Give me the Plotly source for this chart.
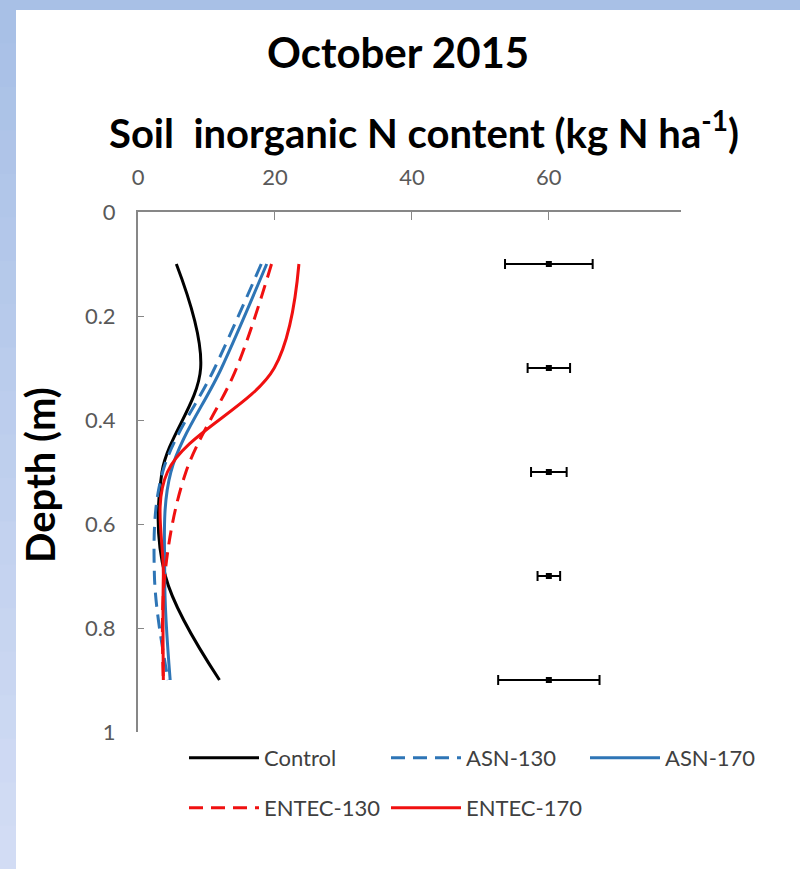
import plotly.graph_objects as go

# ---- data ----
depth = [0.1, 0.3, 0.5, 0.7, 0.9]
control = [5.6, 9.15, 3.5, 4.0, 11.9]
asn130 = [18.0, 11.2, 3.6, 2.4, 4.4]
asn170 = [18.8, 12.2, 4.8, 3.9, 4.7]
entec130 = [19.5, 14.4, 7.0, 3.9, 3.7]
entec170 = [23.5, 19.9, 4.3, 3.7, 3.7]
err_center = [60, 60, 60, 60, 60]
err_half = [6.4, 3.1, 2.6, 1.65, 7.4]
x_ticks = [0, 20, 40, 60]
y_ticks = [0, 0.2, 0.4, 0.6, 0.8, 1]
names = ["Control", "ASN-130", "ASN-170", "ENTEC-130", "ENTEC-170"]

W, H = 800, 869
L, R, T, B = 138, 119, 212, 137
pw = W - L - R
ph = H - T - B


def px(x):
    return (x - L) / pw


def py(y):
    return 1 - (y - T) / ph


FONT = "Lato"
BLUE = "#2E75B6"
RED = "#F01010"

fig = go.Figure()

values = [control, asn130, asn170, entec130, entec170]
colors = ["black", BLUE, BLUE, RED, RED]
dashes = ["solid", "14px,8px", "solid", "14px,8px", "solid"]
legend_ids = ["legend", "legend2", "legend3", "legend4", "legend5"]
# legend entry anchor positions (pixels): line start x, row centre y
legend_pos = [(184, 758), (386, 758), (585, 758), (184, 808), (386, 808)]

for name, vals, col, dash, lg in zip(names, values, colors, dashes, legend_ids):
    fig.add_trace(go.Scatter(
        x=vals, y=depth, name=name, mode="lines",
        line=dict(color=col, width=3, dash=dash, shape="spline", smoothing=1.0),
        legend=lg,
    ))

fig.add_trace(go.Scatter(
    x=err_center, y=depth, mode="markers", showlegend=False,
    marker=dict(color="black", size=6, symbol="square"),
    error_x=dict(type="data", array=err_half, color="black", thickness=2, width=5),
))

# background: blue frame with gradient on the left
shapes = []
top_c = (0xA8, 0xC0, 0xE6)
bot_c = (0xD2, 0xDC, 0xF4)
n = 20
for i in range(n):
    f = i / (n - 1)
    c = tuple(int(round(top_c[k] + (bot_c[k] - top_c[k]) * f)) for k in range(3))
    y0 = H * i / n
    y1 = H * (i + 1) / n
    shapes.append(dict(type="rect", xref="paper", yref="paper", layer="below",
                       x0=px(0), x1=px(16), y0=py(y0), y1=py(y1 + 1),
                       fillcolor="rgb(%d,%d,%d)" % c, line=dict(width=0)))
shapes.append(dict(type="rect", xref="paper", yref="paper", layer="below",
                   x0=px(16), x1=px(W + 2), y0=py(10), y1=py(H + 2),
                   fillcolor="white", line=dict(width=0)))

annotations = [
    dict(text="<b>October 2015</b>", x=px(398), y=py(52), xref="paper", yref="paper",
         showarrow=False, font=dict(family=FONT, size=42, color="black"),
         xanchor="center", yanchor="middle"),
    dict(text="<b>Soil  inorganic N content (kg N ha<sup>-1</sup>)</b>", x=px(424), y=py(130),
         xref="paper", yref="paper", showarrow=False,
         font=dict(family=FONT, size=40, color="black"), xanchor="center", yanchor="middle"),
    dict(text="<b>Depth (m)</b>", x=px(40), y=py(475), xref="paper", yref="paper",
         showarrow=False, textangle=-90, font=dict(family=FONT, size=40, color="black"),
         xanchor="center", yanchor="middle"),
]

layout_legends = {}
for lg, (lx, ly) in zip(legend_ids, legend_pos):
    layout_legends[lg] = dict(
        orientation="h", xref="container", yref="container", x=lx / W, y=1 - ly / H,
        xanchor="left", yanchor="middle", itemwidth=70,
        font=dict(family=FONT, size=22, color="#404040"), bgcolor="rgba(0,0,0,0)",
    )

fig.update_layout(
    width=W, height=H,
    margin=dict(l=L, r=R, t=T, b=B, pad=0, autoexpand=False),
    paper_bgcolor="rgb(168,192,230)",
    plot_bgcolor="white",
    font=dict(family=FONT, color="#595959"),
    shapes=shapes,
    annotations=annotations,
    xaxis=dict(side="top", range=[0, 79.3], tickvals=x_ticks, showgrid=False, zeroline=False,
               showline=True, linecolor="#878787", linewidth=2, ticks="inside", ticklen=8,
               tickcolor="#878787", tickfont=dict(family=FONT, size=22, color="#595959"),
               ticklabelstandoff=16),
    yaxis=dict(range=[1, 0], tickvals=y_ticks, showgrid=False, zeroline=False,
               showline=True, linecolor="#878787", linewidth=2, ticks="inside", ticklen=6,
               tickcolor="#878787", tickfont=dict(family=FONT, size=22, color="#595959"),
               ticklabelstandoff=16),
    **layout_legends,
)

fig.write_html("out.html")
